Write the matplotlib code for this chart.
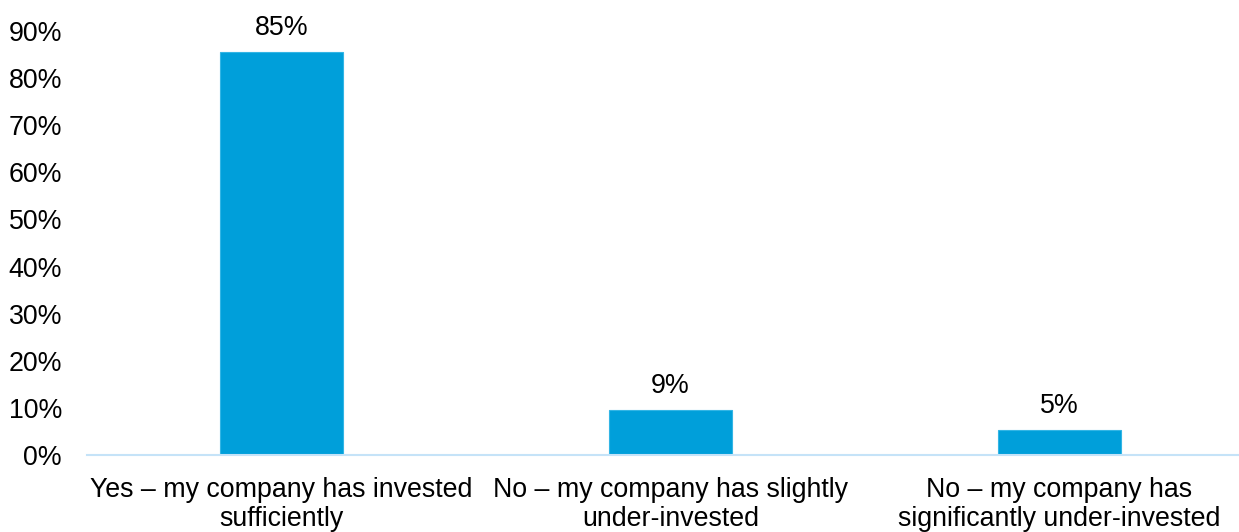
import matplotlib.pyplot as plt
from matplotlib.ticker import FuncFormatter

plt.rcParams['font.family'] = ['Liberation Sans', 'DejaVu Sans']

# data
categories = ["Yes – my company has invested\nsufficiently",
              "No – my company has slightly\nunder-invested",
              "No – my company has\nsignificantly under-invested"]
values = [85.5, 9.5, 5.3]
labels = ["85%", "9%", "5%"]

fs = 19.3

fig = plt.figure(figsize=(12.39, 5.32), dpi=100)
ax = fig.add_axes([87 / 1239, 77 / 532, 1167 / 1239, 424 / 532])

x = range(len(categories))
bars = ax.bar(x, values, width=0.314, color='#009FDA', edgecolor='#33B5E5', linewidth=0.8)
for b, lab in zip(bars, labels):
    ax.text(b.get_x() + b.get_width() / 2, b.get_height() + 2.3, lab,
            ha='center', va='bottom', fontsize=fs, color='black')

ax.set_xlim(-0.5, 2.5)
ax.set_ylim(0, 90)
ax.set_yticks(range(0, 91, 10))
ax.yaxis.set_major_formatter(FuncFormatter(lambda v, p: f"{int(v)}%"))
ax.set_xticks(list(x))
ax.set_xticklabels(categories, fontsize=fs, linespacing=1.12)
ax.tick_params(axis='y', labelsize=fs, length=0, pad=18)
ax.tick_params(axis='x', length=0, pad=16)

for s in ['top', 'right', 'left']:
    ax.spines[s].set_visible(False)
ax.spines['bottom'].set_color('#C5E3F8')
ax.spines['bottom'].set_linewidth(1.5)

fig.savefig('out.png', dpi=100)
